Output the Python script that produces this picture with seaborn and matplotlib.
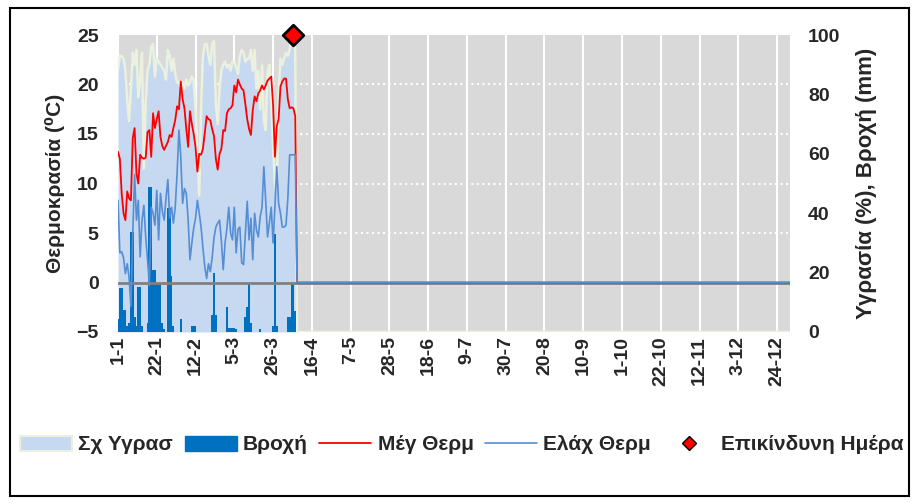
import numpy as np
import pandas as pd
import matplotlib
matplotlib.use('Agg')
import matplotlib.pyplot as plt
import seaborn as sns
from matplotlib.patches import Patch, Rectangle
from matplotlib.lines import Line2D

### daily readings from 1-1 (97 days recorded, rest of year empty)
tmax = [13.2, 12.5, 9.0, 7.0, 6.3, 9.2, 8.5, 8.3, 14.6, 15.6,
        11.0, 10.0, 12.9, 12.6, 12.5, 12.6, 15.2, 15.4, 12.7, 17.1,
        15.6, 16.5, 17.3, 14.7, 13.8, 13.4, 13.8, 14.2, 14.9, 14.7,
        15.6, 16.4, 17.8, 17.5, 20.3, 18.5, 17.6, 15.5, 13.7, 17.3,
        16.0, 15.0, 13.7, 11.2, 13.0, 12.9, 13.5, 15.1, 16.8, 16.5,
        16.4, 15.5, 14.8, 12.5, 11.4, 13.0, 13.5, 15.4, 15.3, 17.1,
        17.5, 17.6, 17.9, 19.9, 19.2, 20.5, 20.0, 19.6, 19.4, 18.0,
        16.5, 15.5, 14.9, 17.4, 18.8, 18.3, 19.1, 19.4, 19.9, 19.5,
        19.9, 20.4, 20.6, 20.8, 18.0, 12.7, 15.8, 16.5, 19.8, 20.3,
        20.6, 20.6, 18.5, 17.6, 17.7, 17.6, 16.8]
tmin = [8.3, 3.0, 3.1, 2.5, 0.9, 1.9, 0.5, -2.4, 5.0, 10.9,
        6.3, 8.3, 2.6, 6.3, 7.8, 4.6, 2.3, -0.3, 7.6, 7.0,
        5.8, 9.3, 4.3, 9.0, 7.2, 6.3, 8.5, 10.4, 6.5, 7.6,
        6.0, 7.6, 11.0, 15.4, 12.7, 8.0, 9.5, 9.0, 6.3, 2.3,
        4.0, 5.5, 6.5, 8.3, 7.0, 5.6, 3.5, 1.6, 0.4, 1.9,
        1.1, 2.5, 4.5, 5.6, 6.0, 6.3, 4.2, 1.3, 4.0, 5.5,
        7.6, 5.0, 4.3, 7.6, 3.0, 5.4, 5.6, 2.0, 1.8, 5.0,
        8.2, 4.3, 6.5, 2.3, 7.0, 5.3, 4.6, 6.6, 7.6, 11.7,
        8.3, 4.6, 6.0, 7.6, 4.0, 7.6, 11.7, 8.0, 7.0, 5.6,
        5.6, 5.8, 8.5, 12.9, 12.9, 12.9, 12.9]
humidity = [88, 93, 93, 92, 88, 78, 71, 82, 94, 90,
            95, 79, 85, 94, 55, 77, 88, 90, 96, 97,
            86, 92, 91, 90, 89, 88, 85, 95, 93, 88,
            92, 87, 84, 84, 82, 84, 82, 85, 83, 84,
            86, 85, 75, 60, 46, 75, 93, 97, 97, 93,
            90, 97, 98, 77, 70, 82, 88, 90, 91, 89,
            90, 88, 91, 91, 89, 87, 93, 95, 94, 91,
            92, 92, 95, 88, 95, 82, 88, 75, 90, 71,
            68, 88, 90, 78, 62, 50, 48, 80, 92, 90,
            92, 94, 93, 95, 100, 100, 95]
rain = [4.5, 14.7, 14.7, 7.4, 7.4, 2.0, 3.0, 33.7, 33.7, 5.0,
        2.0, 15.0, 15.0, 2.0, 0, 0, 3.0, 48.8, 48.8, 21.0,
        21.0, 16.5, 16.5, 16.5, 3.0, 1.0, 0, 41.7, 41.7, 19.0,
        2.0, 0, 0, 0, 4.5, 0, 0, 0, 0, 0,
        2.0, 2.0, 2.0, 0, 0, 0, 0, 0, 0, 0,
        0, 5.7, 20.0, 5.7, 0, 0, 0, 0, 0, 8.4,
        1.5, 1.5, 1.5, 1.5, 1.0, 0, 0, 0, 0, 5.0,
        8.4, 16.0, 3.0, 0, 0, 0, 0, 1.0, 0, 0,
        0, 0, 0, 0, 2.0, 33.0, 2.0, 0, 0, 0,
        0, 0, 5.0, 5.0, 16.5, 16.5, 7.0]

danger_day = [95]
danger_level = [25]

tick_labels = ['1-1', '22-1', '12-2', '5-3', '26-3', '16-4', '7-5', '28-5', '18-6',
               '9-7', '30-7', '20-8', '10-9', '1-10', '22-10', '12-11', '3-12', '24-12']
tick_step = 21
temp_grid = [5, 10, 15, 20, 25]

### empty days are plotted as zero, as in the original sheet
n_days = 365
pad = np.zeros(n_days - len(tmax))
df = pd.DataFrame({
    'day': np.arange(n_days),
    'tmax': np.concatenate([tmax, pad]),
    'tmin': np.concatenate([tmin, pad]),
    'hum': np.concatenate([humidity, pad]),
    'rain': np.concatenate([rain, pad]),
})

sns.set_style('white')
plt.rcParams['font.family'] = ['Liberation Sans', 'DejaVu Sans']
plt.rcParams['font.weight'] = 'bold'

fig = plt.figure(figsize=(9.14, 5.04), dpi=100)
ax_h = fig.add_axes([118/914, 1 - 332/504, 672/914, 297/504])
ax_h.set_facecolor('#d9d9d9')

### humidity area + rain bars (right axis)
ax_h.fill_between(df['day'], df['hum'], color='#c6d9f1', lw=0, zorder=2)
sns.lineplot(data=df, x='day', y='hum', color='#ebf1de', lw=1.8, ax=ax_h, zorder=3)
sns.barplot(data=df, x='day', y='rain', native_scale=True, color='#0070c0',
            saturation=1, width=1.0, linewidth=0, errorbar=None, ax=ax_h, zorder=4)

ax_h.set_xlim(0, n_days - 1)
ax_h.set_ylim(0, 100)
ax_h.set_xticks(df['day'][::tick_step])
ax_h.set_xticklabels(tick_labels, rotation=90, fontsize=14, fontweight='bold')
ax_h.set_yticks(range(0, 101, 20))
ax_h.set_yticks([(t + 5) / 30 * 100 for t in temp_grid], minor=True)
ax_h.set_axisbelow(True)
ax_h.grid(axis='x', color='white', lw=1.5)
ax_h.grid(axis='y', which='minor', color='white', ls=':', lw=1.5)
ax_h.grid(axis='y', which='major', visible=False)
ax_h.set_xlabel('')

### temperatures (left axis)
ax_t = ax_h.twinx()
ax_t.set_ylim(-5, 25)
ax_t.axhline(0, color='#808080', lw=2, zorder=1)
sns.lineplot(data=df, x='day', y='tmax', color='#ff0000', lw=1.3, ax=ax_t, zorder=3)
sns.lineplot(data=df, x='day', y='tmin', color='#558ed5', lw=1.2, ax=ax_t, zorder=4)
sns.scatterplot(x=danger_day, y=danger_level, marker='D', s=110, color='#ff0000',
                edgecolor='black', linewidth=2, ax=ax_t, clip_on=False, zorder=10)
ax_t.set_yticks(range(-5, 26, 5))
ax_t.set_xlabel('')

### swap sides: temperature on the left, humidity/rain on the right
ax_t.yaxis.tick_left()
ax_t.yaxis.set_label_position('left')
ax_h.yaxis.tick_right()
ax_h.yaxis.set_label_position('right')

ax_h.tick_params(which='both', length=0)
ax_h.tick_params(axis='x', pad=3)
ax_h.tick_params(axis='y', pad=13, labelsize=14)
ax_t.tick_params(length=0, pad=14, labelsize=14)
ax_h.set_ylabel('Υγρασία (%), Βροχή (mm)', fontsize=16, fontweight='bold', labelpad=11)
ax_t.set_ylabel('Θερμοκρασία (⁰C)', fontsize=15, fontweight='bold', labelpad=8)

for a in (ax_h, ax_t):
    for s in a.spines.values():
        s.set_visible(False)

### legend
handles = [Patch(facecolor='#c6d9f1', edgecolor='#ebf1de', lw=1.5),
           Patch(facecolor='#0070c0', edgecolor='#0070c0'),
           Line2D([], [], color='#ff0000', lw=1.3),
           Line2D([], [], color='#558ed5', lw=1.2),
           Line2D([], [], ls='none', marker='D', markersize=7, markerfacecolor='#ff0000',
                  markeredgecolor='black', markeredgewidth=1)]
labels = ['Σχ Υγρασ', 'Βροχή', 'Μέγ Θερμ', 'Ελάχ Θερμ', 'Επικίνδυνη Ημέρα']
fig.legend(handles, labels, loc='center left', bbox_to_anchor=(20/914, 1 - 445/504),
           ncol=5, frameon=False, prop={'weight': 'bold', 'size': 15},
           handlelength=2.5, handletextpad=0.3, columnspacing=0.55,
           borderaxespad=0, borderpad=0)

fig.add_artist(Rectangle((10/914, 8/504), 899/914, 488/504, transform=fig.transFigure,
                         fill=False, ec='black', lw=1.5))

plt.savefig('out.png', dpi=100)
